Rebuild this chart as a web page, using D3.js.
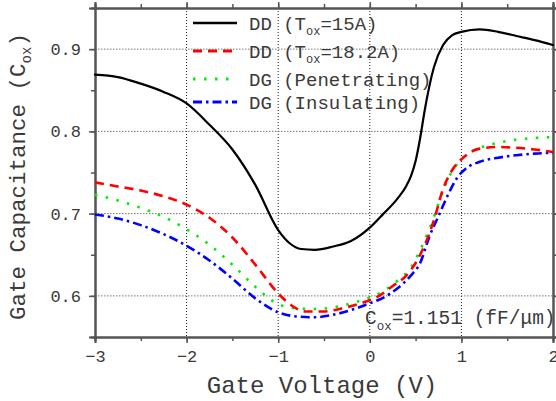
<!DOCTYPE html>
<meta charset="utf-8">
<head>
  <title>Gate Capacitance</title>
  <script src="https://d3js.org/d3.v7.min.js"></script>
  <style type=text/css>
    body { margin: 0; background: #fff; }
    text { font-family: "Liberation Mono", "Courier New", monospace; fill: #3a3a3a; }
  </style>
</head>
<body>
<div id="my_dataviz"></div>
<script>
  // gate voltage (V) / normalized capacitance for each curve
  var ddThinV = [-3,-2.75,-2.5,-2.25,-2,-1.75,-1.5,-1.25,-1,-0.875,-0.75,-0.6,-0.4,-0.2,0,0.15,0.3,0.4,0.45,0.5,0.55,0.6,0.7,0.8,0.9,1,1.2,1.4,1.6,1.8,2];
  var ddThinC = [0.869,0.866,0.858,0.848,0.834,0.808,0.778,0.735,0.680,0.664,0.657,0.656,0.660,0.667,0.683,0.700,0.718,0.734,0.746,0.764,0.792,0.826,0.878,0.905,0.917,0.921,0.924,0.921,0.916,0.911,0.905];

  var ddThickV = [-3,-2.75,-2.5,-2.25,-2,-1.75,-1.5,-1.25,-1,-0.85,-0.7,-0.5,-0.3,-0.1,0.1,0.25,0.4,0.5,0.6,0.7,0.8,0.9,1,1.2,1.4,1.6,1.8,2];
  var ddThickC = [0.738,0.733,0.728,0.721,0.711,0.695,0.671,0.638,0.603,0.588,0.581,0.581,0.585,0.591,0.600,0.612,0.625,0.640,0.662,0.692,0.730,0.753,0.766,0.779,0.781,0.780,0.778,0.775];

  var dgPenV = [-3,-2.75,-2.5,-2.25,-2,-1.75,-1.5,-1.25,-1,-0.8,-0.6,-0.4,-0.2,0,0.15,0.3,0.45,0.6,0.7,0.8,0.9,1,1.2,1.4,1.6,1.8,2];
  var dgPenC = [0.723,0.716,0.707,0.696,0.681,0.662,0.638,0.611,0.590,0.585,0.584,0.586,0.591,0.598,0.606,0.618,0.635,0.668,0.696,0.728,0.752,0.766,0.780,0.786,0.790,0.792,0.793];

  var dgInsV = [-3,-2.75,-2.5,-2.25,-2,-1.75,-1.5,-1.25,-1,-0.8,-0.6,-0.4,-0.2,0,0.15,0.3,0.45,0.55,0.65,0.75,0.85,0.95,1.05,1.2,1.4,1.6,1.8,2];
  var dgInsC = [0.699,0.694,0.686,0.675,0.661,0.643,0.621,0.597,0.580,0.575,0.574,0.577,0.583,0.591,0.598,0.609,0.625,0.640,0.672,0.697,0.722,0.743,0.755,0.763,0.768,0.771,0.773,0.774];

  var xTicks = [-3,-2,-1,0,1,2];
  var yTicks = [0.6,0.7,0.8,0.9];

  var series = [
    {name: "DD (T", sub: "ox", tail: "=15A)", v: ddThinV, c: ddThinC, color: "#000", dash: null, w: 2.2},
    {name: "DD (T", sub: "ox", tail: "=18.2A)", v: ddThickV, c: ddThickC, color: "#ff0000", dash: "9,6", w: 2.6},
    {name: "DG (Penetrating)", sub: "", tail: "", v: dgPenV, c: dgPenC, color: "#00ee00", dash: "2.5,8.5", w: 2.6},
    {name: "DG (Insulating)", sub: "", tail: "", v: dgInsV, c: dgInsC, color: "#0000ff", dash: "9,4,2.5,4", w: 2.6}
  ];

  var margin = {top: 8, right: 3, bottom: 64, left: 95},
      W = 556, H = 401,
      width = W - margin.left - margin.right,
      height = H - margin.top - margin.bottom;

  var svg = d3.select("#my_dataviz").append("svg")
      .attr("width", W).attr("height", H)
    .append("g")
      .attr("transform", "translate(" + margin.left + "," + margin.top + ")");

  var x = d3.scaleLinear().domain([-3, 2]).range([0, width]);
  var y = d3.scaleLinear().domain([0.55, 0.95]).range([height, 0]);

  // dotted grid
  svg.append("g").selectAll("line").data(xTicks.filter(function(d){ return d > -3 && d < 2; }))
    .enter().append("line")
      .attr("x1", function(d){ return x(d); }).attr("x2", function(d){ return x(d); })
      .attr("y1", 0).attr("y2", height)
      .attr("stroke", "#222").attr("stroke-width", 1).attr("stroke-dasharray", "1,2");
  svg.append("g").selectAll("line").data(yTicks)
    .enter().append("line")
      .attr("y1", function(d){ return y(d); }).attr("y2", function(d){ return y(d); })
      .attr("x1", 0).attr("x2", width)
      .attr("stroke", "#777").attr("stroke-width", 1).attr("stroke-dasharray", "1.5,1.5");

  // axes (major + minor ticks, outward)
  function styleAxis(g) {
    g.select(".domain").attr("stroke", "#555").attr("stroke-width", 2);
    g.selectAll(".tick line").attr("stroke", "#555").attr("stroke-width", 1.5);
  }
  var xMinor = d3.range(-3, 2.01, 0.5);
  var yMinor = d3.range(0.55, 0.951, 0.05);

  svg.append("g").attr("transform", "translate(0," + height + ")")
    .call(d3.axisBottom(x).tickValues(xMinor).tickSize(4).tickFormat("")).call(styleAxis);
  svg.append("g").attr("transform", "translate(0," + height + ")")
    .call(d3.axisBottom(x).tickValues(xTicks).tickSize(6).tickPadding(7).tickFormat(function(d){ return d < 0 ? "\u2212" + Math.abs(d) : d; }))
    .call(styleAxis)
    .selectAll("text").style("font-size", "17px").attr("fill", "#3a3a3a");
  svg.append("g")
    .call(d3.axisTop(x).tickValues(xMinor).tickSize(4).tickFormat("")).call(styleAxis);
  svg.append("g")
    .call(d3.axisTop(x).tickValues(xTicks).tickSize(6).tickFormat("")).call(styleAxis);

  svg.append("g")
    .call(d3.axisLeft(y).tickValues(yMinor).tickSize(4).tickFormat("")).call(styleAxis);
  svg.append("g")
    .call(d3.axisLeft(y).tickValues(yTicks).tickSize(6).tickPadding(8).tickFormat(d3.format(".1f")))
    .call(styleAxis)
    .selectAll("text").style("font-size", "17px").attr("fill", "#3a3a3a");
  svg.append("g").attr("transform", "translate(" + width + ",0)")
    .call(d3.axisRight(y).tickValues(yMinor).tickSize(4).tickFormat("")).call(styleAxis);
  svg.append("g").attr("transform", "translate(" + width + ",0)")
    .call(d3.axisRight(y).tickValues(yTicks).tickSize(6).tickFormat("")).call(styleAxis);

  // curves
  var line = d3.line().curve(d3.curveMonotoneX)
    .x(function(d){ return x(d[0]); }).y(function(d){ return y(d[1]); });

  series.slice().reverse().forEach(function(s) {
    svg.append("path")
      .datum(d3.zip(s.v, s.c))
      .attr("fill", "none")
      .attr("stroke", s.color)
      .attr("stroke-width", s.w)
      .attr("stroke-dasharray", s.dash)
      .attr("stroke-linecap", s.dash ? "butt" : "round")
      .attr("d", line);
  });

  // legend
  var legY = [15, 43, 71, 94];
  var leg = svg.append("g").selectAll("g").data(series).enter().append("g")
    .attr("transform", function(d, i){ return "translate(0," + legY[i] + ")"; });
  leg.append("line")
    .attr("x1", 98).attr("x2", 142).attr("y1", 0).attr("y2", 0)
    .attr("stroke", function(d){ return d.color; })
    .attr("stroke-width", function(d){ return d.w + 0.4; })
    .attr("stroke-dasharray", function(d){ return d.dash; });
  var lt = leg.append("text").attr("x", 154).attr("y", 7).style("font-size", "19px");
  lt.append("tspan").text(function(d){ return d.name; });
  lt.append("tspan").attr("dy", 5).style("font-size", "12px").text(function(d){ return d.sub; });
  lt.append("tspan").attr("dy", function(d){ return d.sub ? -5 : 0; }).text(function(d){ return d.tail; });

  // oxide capacitance note
  var note = svg.append("text").attr("x", 270).attr("y", 316).style("font-size", "19.5px");
  note.append("tspan").text("C");
  note.append("tspan").attr("dy", 6).style("font-size", "12.5px").text("ox");
  note.append("tspan").attr("dy", -6).text("=1.151 (fF/\u03bcm)");

  // axis titles
  svg.append("text")
    .attr("x", width / 2 - 2).attr("y", height + 56)
    .attr("text-anchor", "middle").style("font-size", "24px")
    .text("Gate Voltage (V)");

  var yt = svg.append("text")
    .attr("transform", "translate(" + (-70) + "," + (height / 2 + 4) + ") rotate(-90)")
    .attr("text-anchor", "middle").style("font-size", "22.5px");
  yt.append("tspan").text("Gate Capacitance (C");
  yt.append("tspan").attr("dy", 6).style("font-size", "14px").text("ox");
  yt.append("tspan").attr("dy", -6).text(")");
</script>
</body>
